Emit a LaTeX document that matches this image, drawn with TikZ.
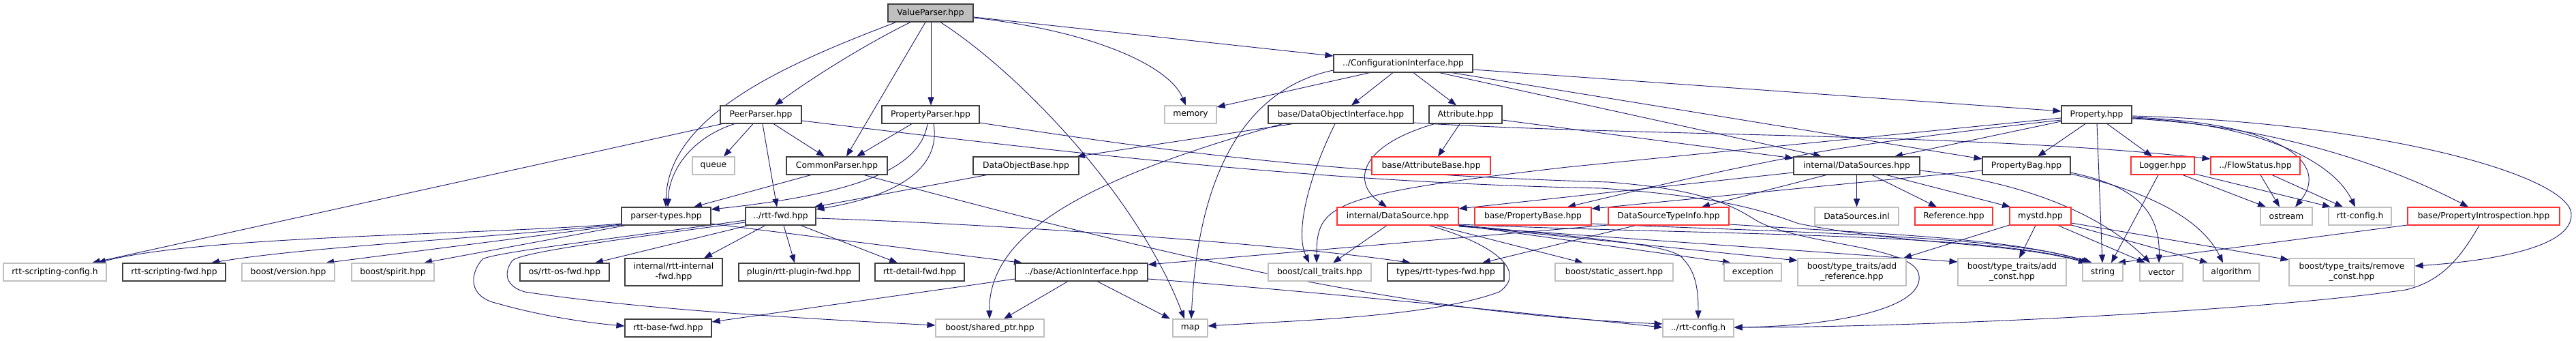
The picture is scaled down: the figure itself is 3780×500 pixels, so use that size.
\documentclass[tikz,border=0pt]{standalone}
\usepackage{fontspec}
\setmainfont{DejaVu Sans}
\usetikzlibrary{arrows.meta}
\definecolor{edgec}{HTML}{191970}
\definecolor{nblk}{HTML}{404040}
\definecolor{ngry}{HTML}{BFBFBF}
\definecolor{nrd}{HTML}{FF3030}
\pgfdeclarelayer{bg}
\pgfsetlayers{bg,main}
\begin{document}
\begin{tikzpicture}[x=1pt,y=-1pt,
  nbox/.style={draw=nblk, line width=1.1pt, fill=white, minimum height=26pt, inner sep=0pt,
     font=\fontsize{12.3}{15}\selectfont, align=center},
  gbox/.style={nbox, draw=ngry},
  rbox/.style={nbox, draw=nrd},
  e/.style={draw=edgec, line width=0.9pt, -{Triangle[length=12pt,width=9pt]}}]
\begin{pgfonlayer}{bg}
\fill[white] (0,0) rectangle (3780,500);
\end{pgfonlayer}
\useasboundingbox (0,0) rectangle (3780,500);
% row 0
\node[nbox, fill=ngry, minimum width=125pt] (vp) at (1365.5,19) {ValueParser.hpp};
\node[nbox, minimum width=204pt] (ci) at (2059,93) {../ConfigurationInterface.hpp};
% row 1
\node[nbox, minimum width=119pt] (pp) at (1116.5,168) {PeerParser.hpp};
\node[nbox, minimum width=143pt] (prp) at (1365.5,168) {PropertyParser.hpp};
\node[gbox, minimum width=76pt] (mem) at (1747,168) {memory};
\node[nbox, minimum width=213pt] (doi) at (1967.5,168) {base/DataObjectInterface.hpp};
\node[nbox, minimum width=107pt] (attr) at (2150.5,168) {Attribute.hpp};
\node[nbox, minimum width=103pt] (prop) at (3076.5,168) {Property.hpp};
% row 2
\node[gbox, minimum width=62pt] (queue) at (1047,243) {queue};
\node[nbox, minimum width=148pt] (cp) at (1228,243) {CommonParser.hpp};
\node[nbox, minimum width=155pt] (dob) at (1505.5,243) {DataObjectBase.hpp};
\node[rbox, minimum width=174pt] (ab) at (2100,243) {base/AttributeBase.hpp};
\node[nbox, minimum width=185pt] (dss) at (2724.5,243) {internal/DataSources.hpp};
\node[nbox, minimum width=129pt] (pb) at (2973.5,243) {PropertyBag.hpp};
\node[rbox, minimum width=93pt] (log) at (3173.5,243) {Logger.hpp};
\node[rbox, minimum width=131pt] (fs) at (3309.5,243) {../FlowStatus.hpp};
% row 3
\node[nbox, minimum width=131pt] (pt) at (977.5,317) {parser-types.hpp};
\node[nbox, minimum width=103pt] (fwd) at (1145.5,317) {../rtt-fwd.hpp};
\node[rbox, minimum width=178pt] (ds) at (2051,317) {internal/DataSource.hpp};
\node[rbox, minimum width=171pt] (pbase) at (2249.5,317) {base/PropertyBase.hpp};
\node[rbox, minimum width=177pt] (dsti) at (2448.5,317) {DataSourceTypeInfo.hpp};
\node[gbox, minimum width=123pt] (inl) at (2724.5,317) {DataSources.inl};
\node[rbox, minimum width=114pt] (ref) at (2867,317) {Reference.hpp};
\node[rbox, minimum width=90pt] (mystd) at (2994,317) {mystd.hpp};
\node[gbox, minimum width=76pt] (ostr) at (3355,317) {ostream};
\node[gbox, minimum width=92pt] (rcfg) at (3463,317) {rtt-config.h};
\node[rbox, minimum width=223pt] (pint) at (3644.5,317) {base/PropertyIntrospection.hpp};
% row 4
\node[gbox, minimum width=151pt] (rsc) at (80.5,399) {rtt-scripting-config.h};
\node[nbox, minimum width=151pt] (rsf) at (255.5,399) {rtt-scripting-fwd.hpp};
\node[gbox, minimum width=136pt] (bver) at (423,399) {boost/version.hpp};
\node[gbox, minimum width=121pt] (bsp) at (576.5,399) {boost/spirit.hpp};
\node[nbox, minimum width=131pt] (osf) at (828.5,399) {os/rtt-os-fwd.hpp};
\node[nbox, minimum width=143pt, minimum height=40pt] (intf) at (988.5,399) {internal/rtt-internal\\-fwd.hpp};
\node[nbox, minimum width=177pt] (plf) at (1172.5,399) {plugin/rtt-plugin-fwd.hpp};
\node[nbox, minimum width=131pt] (detf) at (1349.5,399) {rtt-detail-fwd.hpp};
\node[nbox, minimum width=194pt] (ai) at (1587,399) {../base/ActionInterface.hpp};
\node[gbox, minimum width=151pt] (ct) at (1936.5,399) {boost/call\_traits.hpp};
\node[nbox, minimum width=171pt] (tf) at (2121.5,399) {types/rtt-types-fwd.hpp};
\node[gbox, minimum width=173pt] (sa) at (2368.5,399) {boost/static\_assert.hpp};
\node[gbox, minimum width=84pt] (exc) at (2572,399) {exception};
\node[gbox, minimum width=159pt, minimum height=40pt] (aref) at (2717.5,399) {boost/type\_traits/add\\\_reference.hpp};
\node[gbox, minimum width=159pt, minimum height=40pt] (aconst) at (2952.5,399) {boost/type\_traits/add\\\_const.hpp};
\node[gbox, minimum width=59pt] (str) at (3085.5,399) {string};
\node[gbox, minimum width=63pt] (vec) at (3171.5,399) {vector};
\node[gbox, minimum width=82pt] (alg) at (3274,399) {algorithm};
\node[gbox, minimum width=184pt, minimum height=40pt] (rc) at (3451,399) {boost/type\_traits/remove\\\_const.hpp};
% row 5
\node[nbox, minimum width=127pt] (rbf) at (980.5,481) {rtt-base-fwd.hpp};
\node[gbox, minimum width=159pt] (sp) at (1452.5,481) {boost/shared\_ptr.hpp};
\node[gbox, minimum width=51pt] (map) at (1746.5,481) {map};
\node[gbox, minimum width=104pt] (cfg) at (2492,481) {../rtt-config.h};

\begin{pgfonlayer}{bg}
% ValueParser
\draw[e] (vp.south -| 1315,0) .. controls (1150,95) and (980,170) .. (pt.north -| 977,0);
\draw[e] (vp.south -| 1336,0) .. controls (1270,65) and (1190,115) .. (pp.north -| 1137,0);
\draw[e] (vp.south -| 1358,0) -- (cp.north -| 1242,0);
\draw[e] (vp.south -| 1366,0) -- (prp.north -| 1366,0);
\draw[e] (vp.south -| 1380,0) .. controls (1500,110) and (1670,290) .. (map.north -| 1738,0);
\draw[e] (vp.east |- 0,26) .. controls (1600,45) and (1715,95) .. (mem.north -| 1740,0);
\draw[e] (vp.east |- 0,25) -- (ci.west |- 0,82);
% PeerParser
\draw[e] (pp.south -| 1060,0) -- (rsc.north -| 135,0);
\draw[e] (pp.south -| 1078,0) .. controls (1020,200) and (982,245) .. (pt.north -| 980,0);
\draw[e] (pp.south -| 1105,0) -- (queue.north -| 1062,0);
\draw[e] (pp.south -| 1119,0) -- (fwd.north -| 1140,0);
\draw[e] (pp.south -| 1135,0) -- (cp.north -| 1210,0);
\draw[e] (pp.east |- 0,177) .. controls (1600,228) and (1950,268) .. (2350,276) .. controls (2550,290) and (2600,315) .. (2640,328) .. controls (2800,360) and (2950,355) .. (str.north -| 3062,0);
% PropertyParser
\draw[e] (prp.east |- 0,180) .. controls (1700,220) and (1950,255) .. (2360,267) .. controls (2500,278) and (2540,300) .. (2580,325) .. controls (2650,360) and (2800,360) .. (2815,400) .. controls (2830,450) and (2700,478) .. (cfg.east |- 0,480);
\draw[e] (prp.south -| 1338,0) -- (cp.north -| 1257,0);
\draw[e] (prp.south -| 1361,0) .. controls (1350,250) and (1250,285) .. (pt.east |- 0,307);
\draw[e] (prp.south -| 1370,0) .. controls (1380,240) and (1330,285) .. (fwd.east |- 0,307);
% CommonParser
\draw[e] (cp.south -| 1190,0) -- (pt.north -| 1018,0);
\draw[e] (cp.south -| 1268,0) .. controls (1800,400) and (2100,460) .. (cfg.west |- 0,475);
% rtt-fwd
\draw[e] (fwd.east |- 0,320) .. controls (1500,330) and (1900,360) .. (tf.north -| 2070,0);
\draw[e] (fwd.south -| 1098,0) -- (osf.north -| 873,0);
\draw[e] (fwd.west |- 0,323) .. controls (900,350) and (725,370) .. (708,380) .. controls (690,400) and (685,435) .. (730,445) .. controls (800,465) and (870,474) .. (rbf.west |- 0,478);
\draw[e] (fwd.west |- 0,326) .. controls (900,352) and (765,370) .. (752,382) .. controls (738,400) and (742,420) .. (770,428) .. controls (950,455) and (1200,468) .. (sp.west |- 0,477);
\draw[e] (fwd.south -| 1123,0) -- (intf.north -| 1033,0);
\draw[e] (fwd.south -| 1150,0) -- (plf.north -| 1166,0);
\draw[e] (fwd.south -| 1175,0) -- (detf.north -| 1317,0);
% parser-types
\draw[e] (pt.east |- 0,328) -- (ai.north -| 1500,0);
\draw[e] (pt.west |- 0,328) .. controls (700,345) and (300,345) .. (rsc.north -| 143,0);
\draw[e] (pt.west |- 0,329) .. controls (700,350) and (450,362) .. (rsf.north -| 310,0);
\draw[e] (pt.west |- 0,330) -- (bver.north -| 478,0);
\draw[e] (pt.south -| 918,0) -- (bsp.north -| 622,0);
% DataObjectBase / DataObjectInterface
\draw[e] (dob.south -| 1448,0) -- (fwd.north -| 1195,0);
\draw[e] (doi.south -| 1897,0) -- (dob.north -| 1580,0);
\draw[e] (doi.south -| 1882,0) .. controls (1600,260) and (1450,340) .. (sp.north -| 1452,0);
\draw[e] (doi.south -| 1959,0) .. controls (1920,260) and (1900,340) .. (ct.north -| 1921,0);
\draw[e] (doi.east |- 0,180) .. controls (2400,200) and (2900,195) .. (fs.west |- 0,233);
% ConfigurationInterface
\draw[e] (ci.west |- 0,103) .. controls (1850,125) and (1760,220) .. (map.north -| 1748,0);
\draw[e] (ci.south -| 2010,0) -- (mem.east |- 0,157);
\draw[e] (ci.south -| 2044,0) -- (doi.north -| 1983,0);
\draw[e] (ci.south -| 2074,0) -- (attr.north -| 2137,0);
\draw[e] (ci.south -| 2112,0) -- (dss.north -| 2673,0);
\draw[e] (ci.south -| 2130,0) -- (pb.west |- 0,233);
\draw[e] (ci.east |- 0,102) -- (prop.west |- 0,163);
% Attribute
\draw[e] (attr.south -| 2142,0) -- (ab.north -| 2110,0);
\draw[e] (attr.south -| 2105,0) .. controls (1990,215) and (1985,270) .. (ds.north -| 2035,0);
\draw[e] (attr.east |- 0,176) -- (dss.west |- 0,232);
% Property
\draw[e] (prop.south -| 3060,0) -- (pb.north -| 2990,0);
\draw[e] (prop.south -| 3077,0) -- (str.north -| 3085,0);
\draw[e] (prop.south -| 3092,0) -- (log.north -| 3158,0);
\draw[e] (prop.east |- 0,172) .. controls (3350,180) and (3420,240) .. (ostr.north -| 3368,0);
\draw[e] (prop.east |- 0,173) .. controls (3300,180) and (3420,230) .. (rcfg.north -| 3456,0);
\draw[e] (prop.east |- 0,174) .. controls (3350,185) and (3520,250) .. (pint.north -| 3622,0);
\draw[e] (prop.east |- 0,170) .. controls (3500,180) and (3780,260) .. (3773,317) .. controls (3770,370) and (3620,385) .. (rc.east |- 0,390);
\draw[e] (prop.west |- 0,178) -- (dss.north -| 2780,0);
\draw[e] (prop.west |- 0,173) -- (2300,245) .. controls (1950,285) and (1932,300) .. (ct.north -| 1932,0);
\draw[e] (prop.west |- 0,176) .. controls (2880,192) and (2700,215) .. (2632,230) .. controls (2500,255) and (2400,280) .. (pbase.north -| 2300,0);
% PropertyBag
\draw[e] (pb.west |- 0,250) -- (pbase.east |- 0,306);
\draw[e] (pb.east |- 0,253) .. controls (3120,270) and (3170,300) .. (vec.north -| 3168,0);
\draw[e] (pb.east |- 0,255) .. controls (3150,280) and (3230,320) .. (alg.north -| 3262,0);
% Logger / FlowStatus
\draw[e] (log.south -| 3167,0) -- (str.north -| 3098,0);
\draw[e] (log.south -| 3203,0) -- (ostr.north -| 3325,0);
\draw[e] (log.east |- 0,255) -- (rcfg.north -| 3420,0);
\draw[e] (fs.south -| 3317,0) -- (ostr.north -| 3345,0);
\draw[e] (fs.south -| 3334,0) -- (rcfg.north -| 3438,0);
% DataSources
\draw[e] (dss.west |- 0,253) -- (ds.east |- 0,306);
\draw[e] (dss.south -| 2680,0) -- (dsti.north -| 2497,0);
\draw[e] (dss.south) -- (inl.north);
\draw[e] (dss.south -| 2747,0) -- (ref.north -| 2842,0);
\draw[e] (dss.south -| 2768,0) -- (mystd.north -| 2950,0);
\draw[e] (dss.east |- 0,250) .. controls (3000,270) and (3100,330) .. (vec.north -| 3155,0);
% mystd
\draw[e] (mystd.south -| 2987,0) -- (aconst.north -| 2963,0);
\draw[e] (mystd.south -| 3020,0) -- (vec.north -| 3148,0);
\draw[e] (mystd.east |- 0,330) -- (alg.north -| 3240,0);
\draw[e] (mystd.east |- 0,327) -- (rc.west |- 0,381);
\draw[e] (mystd.west |- 0,330) -- (aref.north -| 2793,0);
% PropertyIntrospection
\draw[e] (pint.west |- 0,330) -- (str.north -| 3107,0);
\draw[e] (pint.south -| 3638,0) .. controls (3612,375) and (3585,412) .. (3530,425) .. controls (3300,458) and (2800,480) .. (cfg.east |- 0,480);
% DataSource
\draw[e] (ds.south -| 2035,0) -- (ct.north -| 1956,0);
\draw[e] (ds.south -| 2107,0) -- (sa.north -| 2323,0);
\draw[e] (ds.south -| 2097,0) .. controls (2200,360) and (2240,400) .. (2200,428) .. controls (2100,465) and (1900,470) .. (map.east |- 0,478);
\draw[e] (ds.east |- 0,329) .. controls (2500,345) and (2900,340) .. (str.north -| 3066,0);
\draw[e] (ds.east |- 0,330) -- (exc.north -| 2540,0);
\draw[e] (ds.east |- 0,331) -- (aref.west |- 0,382);
\draw[e] (ds.east |- 0,332) -- (aconst.west |- 0,384);
\draw[e] (ds.east |- 0,330) .. controls (2350,350) and (2460,360) .. (2470,380) .. controls (2490,400) and (2492,430) .. (cfg.north);
% DataSourceTypeInfo / PropertyBase
\draw[e] (dsti.west |- 0,330) -- (ai.east |- 0,388);
\draw[e] (dsti.south -| 2400,0) -- (tf.north -| 2175,0);
\draw[e] (dsti.east |- 0,329) .. controls (2800,345) and (2950,350) .. (str.north -| 3070,0);
\draw[e] (pbase.east |- 0,328) .. controls (2600,340) and (2950,345) .. (str.north -| 3068,0);
% ActionInterface
\draw[e] (ai.west |- 0,409) -- (rbf.east |- 0,472);
\draw[e] (ai.south -| 1567,0) -- (sp.north -| 1473,0);
\draw[e] (ai.south -| 1610,0) -- (map.north -| 1717,0);
\draw[e] (ai.east |- 0,409) .. controls (1900,425) and (2200,455) .. (cfg.west |- 0,480);
\end{pgfonlayer}
\end{tikzpicture}
\end{document}
